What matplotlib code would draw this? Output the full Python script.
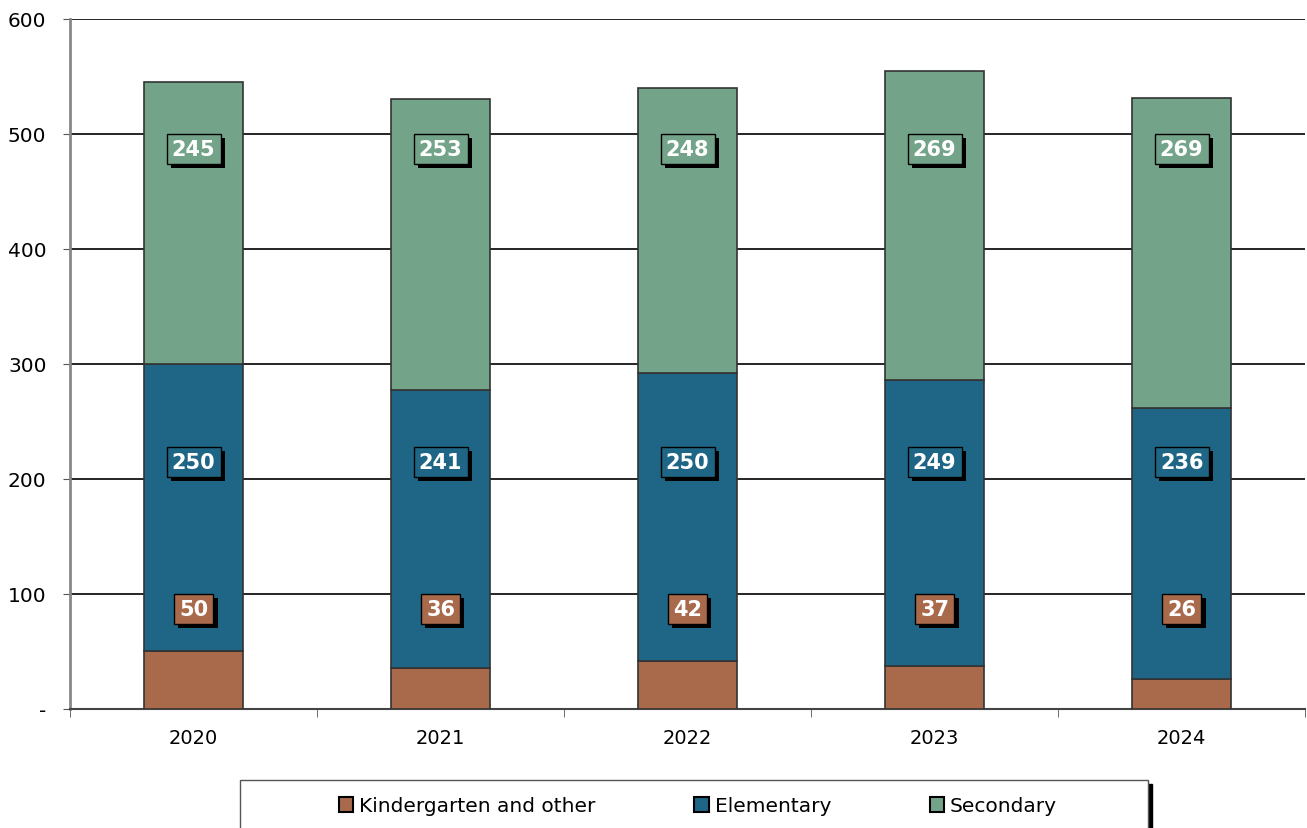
import matplotlib.pyplot as plt
import matplotlib.patheffects as pe
from matplotlib.patches import Patch, Rectangle

years = ["2020", "2021", "2022", "2023", "2024"]
kindergarten = [50, 36, 42, 37, 26]
elementary = [250, 241, 250, 249, 236]
secondary = [245, 253, 248, 269, 269]

series_names = ["Kindergarten and other", "Elementary", "Secondary"]
colors = ["#A86A4A", "#1F6686", "#73A48A"]
# height at which each series' value tag sits
tag_heights = [87, 215, 487]

fig = plt.figure(figsize=(13.07, 8.29), dpi=100)
ax = fig.add_axes([0.0536, 0.1436, 0.945, 0.8323])

x = list(range(len(years)))
bottom = [0] * len(years)
for vals, col, name, ty in zip([kindergarten, elementary, secondary], colors, series_names, tag_heights):
    ax.bar(x, vals, width=0.4, bottom=bottom, color=col, edgecolor="#333333",
           linewidth=1.2, zorder=3, label=name)
    for xi, v in zip(x, vals):
        t = ax.text(xi, ty, str(v), ha="center", va="center", fontsize=15,
                    fontweight="bold", color="white", zorder=5,
                    bbox=dict(boxstyle="square,pad=0.25", fc=col, ec="black", lw=1))
        t.get_bbox_patch().set_path_effects([
            pe.SimplePatchShadow(offset=(3, -3), shadow_rgbFace="black", alpha=1),
            pe.Normal()])
    bottom = [b + v for b, v in zip(bottom, vals)]

ax.set_xlim(-0.5, len(years) - 0.5)
ax.set_ylim(0, 600)
ax.set_yticks(range(0, 601, 100))
ax.set_yticklabels(["-"] + [str(v) for v in range(100, 601, 100)], fontsize=14.5)
ax.yaxis.grid(True, color="black", linewidth=1.2, zorder=0)
ax.set_axisbelow(True)

ax.set_xticks(x)
ax.set_xticklabels(years, fontsize=14)
ax.tick_params(axis="x", which="major", length=0, pad=14)
ax.set_xticks([i - 0.5 for i in range(len(years) + 1)], minor=True)
ax.tick_params(axis="x", which="minor", length=6, color="#555555")
ax.tick_params(axis="y", length=5, color="#555555", pad=12)

for side in ["top", "right"]:
    ax.spines[side].set_visible(False)
ax.spines["left"].set_color("#888888")
ax.spines["left"].set_linewidth(2)
ax.spines["bottom"].set_color("#444444")
ax.spines["bottom"].set_linewidth(1.5)

# legend frame with drop shadow, running off the bottom edge
W, H = 1307, 829
x0, x1, ytop = 240, 1148, 781
fig.patches.append(Rectangle(((x0 + 4) / W, -0.05), (x1 - x0) / W, (H - ytop - 4) / H + 0.05,
                             transform=fig.transFigure, fc="black", ec="black", zorder=1))
fig.patches.append(Rectangle((x0 / W, -0.05), (x1 - x0) / W, (H - ytop) / H + 0.05,
                             transform=fig.transFigure, fc="white", ec="#555555", lw=1, zorder=2))

handles = [Patch(facecolor=c, edgecolor="black", linewidth=1.5) for c in colors]
fig.legend(handles, series_names, loc="center", bbox_to_anchor=(698 / W, 1 - 807 / H),
           ncol=3, frameon=False, fontsize=14.5, handlelength=0.7, handleheight=0.7,
           handletextpad=0.3, columnspacing=4.9)

fig.savefig("out.png", dpi=100)
